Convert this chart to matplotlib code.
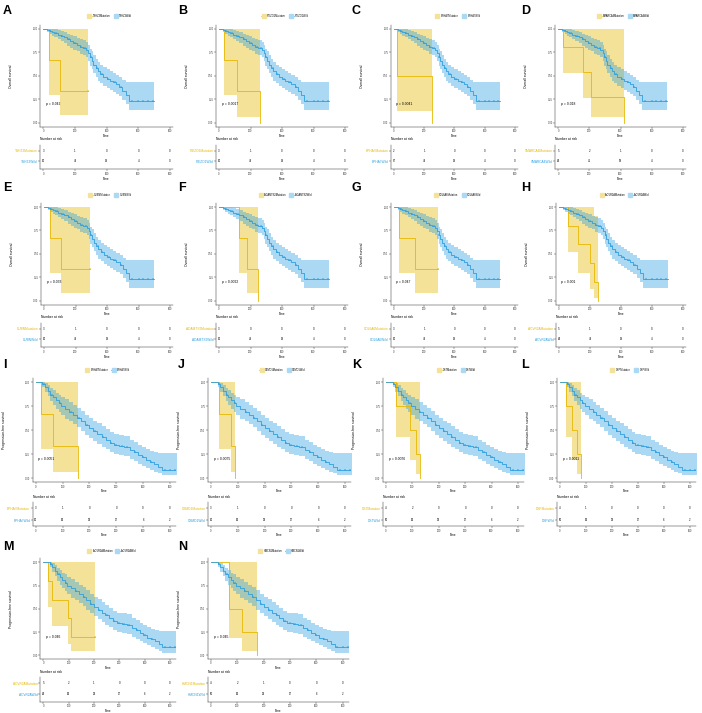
import numpy as np
import matplotlib
matplotlib.use('Agg')
import matplotlib.pyplot as plt
from matplotlib.lines import Line2D

plt.rcParams['font.family'] = ['Liberation Sans', 'DejaVu Sans']

YEL = '#E7B800'
BLU = '#2E9FDF'

# ---- panel info
letters = list('ABCDEFGHIJKLMN')
genes = ['TSHZ3', 'PIEZO1', 'EPHA7', 'SMARCA4', 'CUBN', 'ADAMTS2', 'COL6A6', 'ACVR2A',
         'EPHA7', 'CSMD1', 'DST', 'DSP', 'ACVR2A', 'HMCN1']
pvals = ['0.042', '0.0017', '0.0041', '0.018', '0.033', '0.0022', '0.047', '0.001',
         '0.0051', '0.0075', '0.0076', '0.0011', '0.046', '0.045']

# ---- wild-type curves (overall survival)
os_t = [0, 25, 40, 55, 70, 90, 110, 130, 150, 170, 190, 210, 230, 250, 270, 285,
        295, 305, 315, 330, 345, 360, 380, 400, 420, 440, 460, 480, 500, 520, 540, 700]
os_s = [1.0, 0.99, 0.98, 0.965, 0.955, 0.94, 0.93, 0.91, 0.89, 0.87, 0.85, 0.83, 0.81, 0.80, 0.78, 0.74,
        0.70, 0.66, 0.62, 0.58, 0.55, 0.52, 0.49, 0.47, 0.45, 0.43, 0.41, 0.38, 0.34, 0.30, 0.235, 0.235]
os_lo = [1.0, 0.97, 0.95, 0.93, 0.91, 0.89, 0.87, 0.85, 0.82, 0.80, 0.78, 0.76, 0.73, 0.72, 0.70, 0.66,
         0.61, 0.57, 0.53, 0.49, 0.45, 0.42, 0.39, 0.37, 0.35, 0.33, 0.31, 0.28, 0.24, 0.20, 0.135, 0.135]
os_hi = [1.0, 1.0, 1.0, 1.0, 1.0, 0.99, 0.98, 0.97, 0.95, 0.94, 0.92, 0.90, 0.89, 0.88, 0.86, 0.83,
         0.79, 0.76, 0.72, 0.68, 0.65, 0.62, 0.59, 0.57, 0.55, 0.53, 0.51, 0.49, 0.46, 0.43, 0.43, 0.43]
os_cens = [45, 80, 120, 160, 200, 240, 265, 300, 340, 370, 410, 450, 490, 560, 600, 630, 660, 690]

# ---- wild-type curves (progression-free survival)
pfs_t = [0, 15, 25, 35, 45, 55, 65, 75, 85, 95, 110, 125, 140, 155, 170, 185, 200, 215,
         230, 245, 260, 275, 290, 310, 330, 350, 365, 380, 395, 410, 425, 440, 455, 470, 525]
pfs_s = [1.0, 1.0, 0.98, 0.95, 0.91, 0.87, 0.84, 0.81, 0.78, 0.75, 0.72, 0.69, 0.66, 0.63, 0.59, 0.55, 0.52, 0.49,
         0.46, 0.43, 0.40, 0.37, 0.35, 0.34, 0.33, 0.29, 0.27, 0.24, 0.22, 0.19, 0.17, 0.15, 0.12, 0.09, 0.09]
pfs_lo = [1.0, 1.0, 0.95, 0.90, 0.85, 0.80, 0.76, 0.72, 0.69, 0.66, 0.62, 0.59, 0.56, 0.53, 0.49, 0.45, 0.42, 0.39,
          0.36, 0.33, 0.30, 0.27, 0.25, 0.24, 0.23, 0.20, 0.18, 0.15, 0.13, 0.11, 0.09, 0.07, 0.05, 0.03, 0.03]
pfs_hi = [1.0, 1.0, 1.0, 0.99, 0.97, 0.94, 0.92, 0.89, 0.87, 0.84, 0.82, 0.79, 0.76, 0.73, 0.70, 0.66, 0.63, 0.60,
          0.57, 0.54, 0.51, 0.48, 0.46, 0.45, 0.44, 0.40, 0.38, 0.35, 0.33, 0.30, 0.28, 0.27, 0.26, 0.26, 0.26]
pfs_cens = [30, 60, 90, 130, 160, 190, 220, 250, 280, 300, 320, 340, 370, 400, 430, 480, 500, 520]

# ---- mutation curves, one list per panel
mut_t = [[0, 38, 105, 285], [0, 30, 115, 260], [0, 20, 250], [0, 28, 161, 210, 425],
         [0, 40, 110, 290], [0, 130, 180, 245], [0, 30, 140, 290], [0, 55, 120, 200, 225, 250],
         [0, 20, 64, 157], [0, 30, 75, 90], [0, 37, 90, 115, 130], [0, 22, 45, 65, 80],
         [0, 20, 33, 96, 109, 204], [0, 70, 118, 176]]
mut_s = [[1, 0.667, 0.333, 0.333], [1, 0.667, 0.333, 0.0], [1, 0.5, 0.0], [1, 0.81, 0.54, 0.27, 0.0],
         [1, 0.667, 0.333, 0.333], [1, 0.667, 0.333, 0.0], [1, 0.667, 0.333, 0.333], [1, 0.8, 0.6, 0.4, 0.2, 0.0],
         [1, 0.667, 0.333, 0.0], [1, 0.667, 0.333, 0.0], [1, 0.75, 0.5, 0.25, 0.0], [1, 0.75, 0.5, 0.25, 0.0],
         [1, 0.8, 0.6, 0.4, 0.2, 0.2], [1, 0.5, 0.25, 0.0]]
mut_lo = [[1, 0.30, 0.08, 0.08], [1, 0.30, 0.06, 0.0], [1, 0.13, 0.0], [1, 0.53, 0.26, 0.06, 0.0],
          [1, 0.30, 0.08, 0.08], [1, 0.30, 0.08, 0.0], [1, 0.30, 0.08, 0.08], [1, 0.52, 0.30, 0.12, 0.03, 0.0],
          [1, 0.30, 0.07, 0.0], [1, 0.30, 0.07, 0.0], [1, 0.43, 0.19, 0.04, 0.0], [1, 0.43, 0.19, 0.04, 0.0],
          [1, 0.52, 0.31, 0.12, 0.05, 0.05], [1, 0.19, 0.05, 0.0]]
mut_hi = [[1, 1, 1, 1], [1, 1, 1, 0], [1, 1, 0], [1, 1, 1, 1, 0],
          [1, 1, 1, 1], [1, 1, 1, 0], [1, 1, 1, 1], [1, 1, 1, 1, 0.9, 0],
          [1, 1, 1, 0], [1, 1, 1, 0], [1, 1, 1, 1, 0], [1, 1, 1, 1, 0],
          [1, 1, 1, 1, 1, 1], [1, 1, 1, 0]]

# ---- numbers at risk
os_ticks = [0, 200, 400, 600, 800]
pfs_ticks = [0, 100, 200, 300, 400, 500]
risk_mut = [[3, 1, 0, 0, 0], [3, 1, 0, 0, 0], [2, 1, 0, 0, 0], [5, 2, 1, 0, 0],
            [3, 1, 0, 0, 0], [3, 0, 0, 0, 0], [3, 1, 0, 0, 0], [5, 1, 0, 0, 0],
            [3, 1, 0, 0, 0, 0], [3, 1, 0, 0, 0, 0], [4, 2, 0, 0, 0, 0], [4, 1, 0, 0, 0, 0],
            [5, 2, 1, 0, 0, 0], [4, 2, 1, 0, 0, 0]]
risk_wt = [[86, 47, 19, 4, 0], [86, 47, 19, 4, 0], [87, 47, 19, 4, 0], [84, 46, 18, 4, 0],
           [86, 47, 19, 4, 0], [86, 48, 19, 4, 0], [86, 47, 19, 4, 0], [84, 47, 19, 4, 0],
           [86, 63, 39, 17, 6, 2], [86, 63, 39, 17, 6, 2], [85, 62, 39, 17, 6, 2], [85, 63, 39, 17, 6, 2],
           [84, 62, 38, 17, 6, 2], [85, 62, 38, 17, 6, 2]]

# ---- layout (pixels)
W, H = 702, 713
geo = [dict(y1=29, y0=122.7, axb=126.7, leg=16, nar=139.3, r1=150.7, r2=161.3, tb=169.3, let=5),
       dict(y1=207, y0=300.7, axb=304.7, leg=195, nar=317.3, r1=328.7, r2=339.3, tb=347.3, let=182),
       dict(y1=382, y0=478.3, axb=482, leg=370, nar=497, r1=508.3, r2=520, tb=526, let=359),
       dict(y1=562.3, y0=655.3, axb=658.5, leg=551, nar=672, r1=683.3, r2=694.3, tb=701.7, let=541)]
x0s = [43.3, 219, 394, 558.3, 44, 219, 394, 559, 35.7, 211, 386, 560, 43.3, 211]
x1s = [170, 345, 515, 682.7, 170, 345, 515, 683, 170, 345, 518, 690, 170, 342.7]
rows = [0, 0, 0, 0, 1, 1, 1, 1, 2, 2, 2, 2, 3, 3]
letx = [3, 178, 352, 521]


def rect(l, t, r, b):
    return [l / W, 1 - b / H, (r - l) / W, (b - t) / H]


def style(ax):
    for sp in ['top', 'right']:
        ax.spines[sp].set_visible(False)
    for sp in ['left', 'bottom']:
        ax.spines[sp].set_linewidth(0.35)
        ax.spines[sp].set_color('#333333')
    ax.tick_params(length=1.2, width=0.3, pad=0.6, labelsize=1.8, colors='#333333')


fig = plt.figure(figsize=(7.02, 7.13), dpi=100)

for i in range(14):
    g = geo[rows[i]]
    is_os = i < 8
    tmax = 800 if is_os else 500
    ticks = os_ticks if is_os else pfs_ticks
    x0, x1 = x0s[i], x1s[i]
    left = x0 - 3
    right = x1 + (3 if is_os else 6)
    sc = (x1 - x0) / tmax
    xl = (-(x0 - left) / sc, tmax + (right - x1) / sc)

    ax = fig.add_axes(rect(left, g['y1'] - 4, right, g['axb']))
    style(ax)
    p = g['y0'] - g['y1']
    ax.set_xlim(xl)
    ax.set_ylim(-(g['axb'] - g['y0']) / p, 1 + 4 / p)

    bt = np.array(os_t if is_os else pfs_t)
    bs = np.array(os_s if is_os else pfs_s)
    blo = os_lo if is_os else pfs_lo
    bhi = os_hi if is_os else pfs_hi
    cens = np.array(os_cens if is_os else pfs_cens)

    ax.fill_between(mut_t[i], mut_lo[i], mut_hi[i], step='post', color=YEL, alpha=0.4, lw=0)
    ax.fill_between(bt, blo, bhi, step='post', color=BLU, alpha=0.4, lw=0)
    ax.step(mut_t[i], mut_s[i], where='post', color=YEL, lw=0.6)
    ax.step(bt, bs, where='post', color=BLU, lw=0.6)
    idx = np.searchsorted(bt, cens, side='right') - 1
    ax.plot(cens, bs[idx], '+', ms=1.8, mew=0.35, color=BLU)
    if mut_s[i][-1] > 0:
        ax.plot(mut_t[i][-1], mut_s[i][-1], '+', ms=1.8, mew=0.35, color=YEL)

    ax.set_xticks(ticks)
    ax.set_yticks([0, 0.25, 0.5, 0.75, 1.0])
    ax.set_yticklabels(['0.00', '0.25', '0.50', '0.75', '1.00'])
    ax.set_xlabel('Time', fontsize=2.2, labelpad=0.6)
    ax.text(0.02 * tmax, 0.2, 'p = ' + pvals[i], fontsize=2.4, va='center', ha='left')

    handles = [Line2D([0], [0], color=YEL, lw=0.5, marker='s', ms=2.8, mfc='#F5E29A', mec='#F5E29A'),
               Line2D([0], [0], color=BLU, lw=0.5, marker='s', ms=2.8, mfc='#ABD8F3', mec='#ABD8F3')]
    fig.legend(handles, [genes[i] + 'Mutation', genes[i] + 'Wild'], loc='center',
               bbox_to_anchor=(((left + right) / 2 + 3) / W, 1 - g['leg'] / H),
               ncol=2, frameon=False, fontsize=1.8, handlelength=1.8, handletextpad=0.5,
               columnspacing=1.2, borderpad=0)

    fig.text((x0 - 32) / W, 1 - (g['y1'] + g['y0']) / 2 / H,
             'Overall survival' if is_os else 'Progression-free survival',
             rotation=90, ha='center', va='center', fontsize=2.4)

    # risk table
    tax = fig.add_axes(rect(left, g['r1'] - 6, right, g['tb']))
    style(tax)
    d = g['r2'] - g['r1']
    tax.set_xlim(xl)
    tax.set_ylim(-(g['tb'] - g['r2']) / d, 1 + 6 / d)
    for j, tk in enumerate(ticks):
        tax.text(tk, 1, str(risk_mut[i][j]), ha='center', va='center', fontsize=2.0)
        tax.text(tk, 0, str(risk_wt[i][j]), ha='center', va='center', fontsize=2.0)
    tax.set_xticks(ticks)
    tax.set_yticks([1, 0])
    tax.set_yticklabels([genes[i] + 'Mutation', genes[i] + 'Wild'])
    for lab, c in zip(tax.get_yticklabels(), [YEL, BLU]):
        lab.set_color(c)
    tax.tick_params(axis='y', labelsize=2.3)
    tax.set_xlabel('Time', fontsize=2.2, labelpad=0.6)
    fig.text(left / W, 1 - g['nar'] / H, 'Number at risk', fontsize=2.4, ha='left', va='center')

    fig.text(letx[i % 4] / W, 1 - g['let'] / H, letters[i], fontsize=9, fontweight='bold',
             ha='left', va='top')

fig.savefig('out.png', dpi=100)
